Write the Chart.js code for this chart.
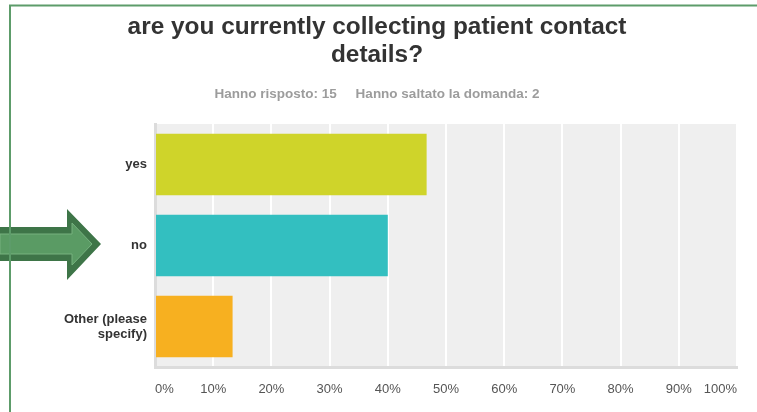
<!DOCTYPE html>
<html>
<head>
<meta charset="utf-8">
<script src="https://cdn.jsdelivr.net/npm/chart.js@4.4.0/dist/chart.umd.min.js"></script>
<style>
  html, body { margin: 0; padding: 0; background: #fff; }
  #wrap { width: 757px; height: 412px; }
</style>
</head>
<body>
<div id="wrap"><canvas id="surveyChart" width="757" height="412"></canvas></div>
<script>
"use strict";

let answerLabels = ["yes", "no", ["Other (please", "specify)"]];
let answerPercents = [46.67, 40.00, 13.33];
let answerColors = ["#cfd42a", "#33bfc0", "#f7b020"];
let percentTicks = ["0%", "10%", "20%", "30%", "40%", "50%", "60%", "70%", "80%", "90%", "100%"];

let titleLines = ["are you currently collecting patient contact", "details?"];
let subtitleText = "Hanno risposto: 15     Hanno saltato la domanda: 2";

Chart.defaults.font.family = "'Liberation Sans', Arial, sans-serif";

// grey panel behind the bars
let plotBackground = {
  id: "plotBackground",
  beforeDraw(chart) {
    let ctx = chart.ctx;
    let area = chart.chartArea;
    ctx.save();
    ctx.fillStyle = "#efefef";
    ctx.fillRect(area.left, area.top, area.right - area.left, area.bottom - area.top);
    ctx.restore();
  }
};

// green pointer arrow and the page frame lines
let pageDecor = {
  id: "pageDecor",
  afterDraw(chart) {
    let ctx = chart.ctx;
    ctx.save();

    ctx.beginPath();
    ctx.moveTo(0, 227);
    ctx.lineTo(67, 227);
    ctx.lineTo(67, 209);
    ctx.lineTo(101, 244);
    ctx.lineTo(67, 280);
    ctx.lineTo(67, 261);
    ctx.lineTo(0, 261);
    ctx.closePath();
    ctx.fillStyle = "#3e7548";
    ctx.fill();

    ctx.beginPath();
    ctx.moveTo(0, 234);
    ctx.lineTo(72, 234);
    ctx.lineTo(72, 223);
    ctx.lineTo(92, 244);
    ctx.lineTo(72, 265);
    ctx.lineTo(72, 254);
    ctx.lineTo(0, 254);
    ctx.closePath();
    ctx.fillStyle = "#5a9b64";
    ctx.fill();
    ctx.strokeStyle = "#76b27f";
    ctx.lineWidth = 1;
    ctx.stroke();

    ctx.strokeStyle = "#5d9c6a";
    ctx.lineWidth = 2;
    ctx.beginPath();
    ctx.moveTo(9, 5.5);
    ctx.lineTo(757, 5.5);
    ctx.moveTo(10, 4.5);
    ctx.lineTo(10, 412);
    ctx.stroke();

    ctx.restore();
  }
};

let ctx = document.getElementById("surveyChart").getContext("2d");
let surveyChart = new Chart(ctx, {
  type: "bar",
  data: {
    labels: answerLabels,
    datasets: [
      {
        data: answerPercents,
        backgroundColor: answerColors,
        borderWidth: 0,
        categoryPercentage: 1,
        barPercentage: 0.76,
      },
    ],
  },
  options: {
    indexAxis: "y",
    responsive: false,
    animation: false,
    devicePixelRatio: 1,
    // left/right padding keeps the titles centred on the page
    layout: { padding: { left: 17, right: 20, top: 0, bottom: 0 } },
    plugins: {
      legend: { display: false },
      tooltip: { enabled: false },
      title: {
        display: true,
        text: titleLines,
        color: "#333333",
        font: { size: 24.4, weight: "bold", lineHeight: 1.12 },
        padding: { top: 14, bottom: 0 },
      },
      subtitle: {
        display: true,
        text: subtitleText,
        color: "#9c9c9c",
        font: { size: 13.5, weight: "bold", lineHeight: 1.2 },
        padding: { top: 17.2, bottom: 22 },
      },
    },
    scales: {
      x: {
        type: "linear",
        position: "bottom",
        min: 0,
        max: 100,
        ticks: {
          stepSize: 10,
          align: "inner",
          padding: 15,
          color: "#555555",
          font: { size: 13 },
          callback: function (value, index) {
            return percentTicks[index];
          },
        },
        grid: { color: "#ffffff", lineWidth: 2, drawTicks: false },
        border: { color: "#dcdcdc", width: 3 },
        afterFit: function (scale) {
          scale.height = 45;
        },
      },
      y: {
        ticks: {
          padding: 8,
          color: "#333333",
          font: { size: 13, weight: "bold", lineHeight: 1.15 },
        },
        grid: { drawOnChartArea: false, drawTicks: false, color: "rgba(0,0,0,0)" },
        border: { color: "#dcdcdc", width: 3 },
        afterFit: function (scale) {
          scale.width = 138;
        },
      },
    },
  },
  plugins: [plotBackground, pageDecor],
});
</script>
</body>
</html>
